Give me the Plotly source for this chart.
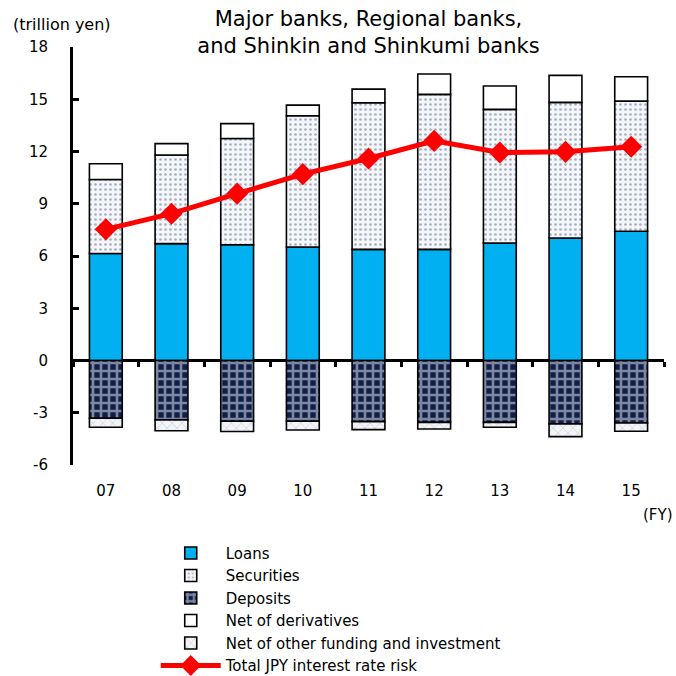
import plotly.graph_objects as go

# Fiscal years (FY2007-FY2015)
years = ["07", "08", "09", "10", "11", "12", "13", "14", "15"]

# Components of JPY interest rate risk (trillion yen)
loans = [6.14, 6.71, 6.65, 6.52, 6.38, 6.38, 6.75, 7.03, 7.42]
securities = [4.25, 5.09, 6.10, 7.53, 8.42, 8.90, 7.67, 7.79, 7.47]
deposits = [-3.32, -3.41, -3.49, -3.49, -3.51, -3.55, -3.55, -3.64, -3.58]
derivatives = [0.91, 0.65, 0.85, 0.61, 0.78, 1.17, 1.34, 1.55, 1.40]
other_funding = [-0.51, -0.62, -0.59, -0.50, -0.46, -0.38, -0.28, -0.73, -0.48]
total_risk = [7.53, 8.43, 9.58, 10.70, 11.60, 12.61, 11.94, 11.98, 12.27]

y_tick_vals = [-6, -3, 0, 3, 6, 9, 12, 15, 18]
y_tick_text = ["-6", "-3", "0", "3", "6", "9", "12", "15", "18"]

FONT = "DejaVu Sans"
edge = dict(color="black", width=1.6)

fig = go.Figure()

fig.add_trace(go.Bar(
    x=years, y=loans, name="Loans",
    marker=dict(color="#00b0f0", line=edge),
))
fig.add_trace(go.Bar(
    x=years, y=securities, name="Securities",
    marker=dict(color="#f3f6fb", line=edge,
                pattern=dict(shape=".", fgcolor="#5d6677", bgcolor="#f3f6fb",
                             size=5, solidity=0.22, fillmode="overlay")),
))
fig.add_trace(go.Bar(
    x=years, y=deposits, name="Deposits",
    marker=dict(color="#121d48", line=edge,
                pattern=dict(shape="+", fgcolor="#e6f3fb", bgcolor="#121d48",
                             size=8, solidity=0.55, fillmode="overlay")),
))
fig.add_trace(go.Bar(
    x=years, y=derivatives, name="Net of derivatives",
    marker=dict(color="white", line=edge),
))
fig.add_trace(go.Bar(
    x=years, y=other_funding, name="Net of other funding and investment",
    marker=dict(color="#f2f4f8", line=edge,
                pattern=dict(shape="x", fgcolor="#8a93a3", bgcolor="#f2f4f8",
                             size=7, solidity=0.15, fillmode="overlay")),
))
fig.add_trace(go.Scatter(
    x=years, y=total_risk, name="Total JPY interest rate risk",
    mode="lines+markers",
    line=dict(color="#ff0000", width=5),
    marker=dict(symbol="diamond", size=17, color="#ff0000"),
))

# invisible companion trace so the zero-level axis carries the same categories
fig.add_trace(go.Scatter(
    x=years, y=[0] * len(years), xaxis="x2", mode="markers",
    marker=dict(opacity=0), showlegend=False, hoverinfo="skip",
))

fig.update_layout(
    width=676, height=676,
    margin=dict(l=73, r=12, t=47, b=211),
    barmode="relative",
    bargap=0.5,
    plot_bgcolor="white", paper_bgcolor="white",
    font=dict(family=FONT, size=15, color="black"),
    title=dict(
        text="Major banks, Regional banks,<br>and Shinkin and Shinkumi banks",
        x=0.5, xref="paper", xanchor="center",
        y=0.962, yref="container", yanchor="top",
        font=dict(family=FONT, size=21, color="black"),
    ),
    xaxis=dict(
        type="category", categoryorder="array", categoryarray=years,
        showline=False, showgrid=False, zeroline=False, ticks="",
        ticklabelstandoff=15, tickfont=dict(size=15),
        range=[-0.5, len(years) - 0.5],
    ),
    xaxis2=dict(
        type="category", categoryorder="array", categoryarray=years,
        overlaying="x", anchor="free", position=0.25, side="bottom",
        matches="x", showline=False, showgrid=False, zeroline=False,
        ticks="outside", tickson="boundaries", ticklen=5, tickwidth=3,
        tickcolor="black", showticklabels=False,
    ),
    yaxis=dict(
        range=[-6, 18], tickvals=y_tick_vals, ticktext=y_tick_text,
        showgrid=False, showline=True, linecolor="black", linewidth=3,
        ticks="inside", ticklen=6, tickwidth=3, tickcolor="black",
        zeroline=True, zerolinecolor="black", zerolinewidth=3,
        ticklabelstandoff=19, tickfont=dict(size=15),
    ),
    legend=dict(
        x=0.14, xanchor="left",
        yref="container", y=0.206, yanchor="top",
        traceorder="normal", itemwidth=60,
        font=dict(family=FONT, size=15),
        tracegroupgap=0, bgcolor="rgba(0,0,0,0)",
        borderwidth=0,
    ),
    annotations=[
        dict(text="(trillion yen)", xref="paper", yref="paper",
             x=-0.019, y=1.053, xanchor="center", yanchor="middle",
             showarrow=False, font=dict(family=FONT, size=16)),
        dict(text="(FY)", xref="paper", yref="paper",
             x=1.018, y=-0.12, xanchor="right", yanchor="middle",
             showarrow=False, font=dict(family=FONT, size=15)),
    ],
)

fig.write_html("out.html")
